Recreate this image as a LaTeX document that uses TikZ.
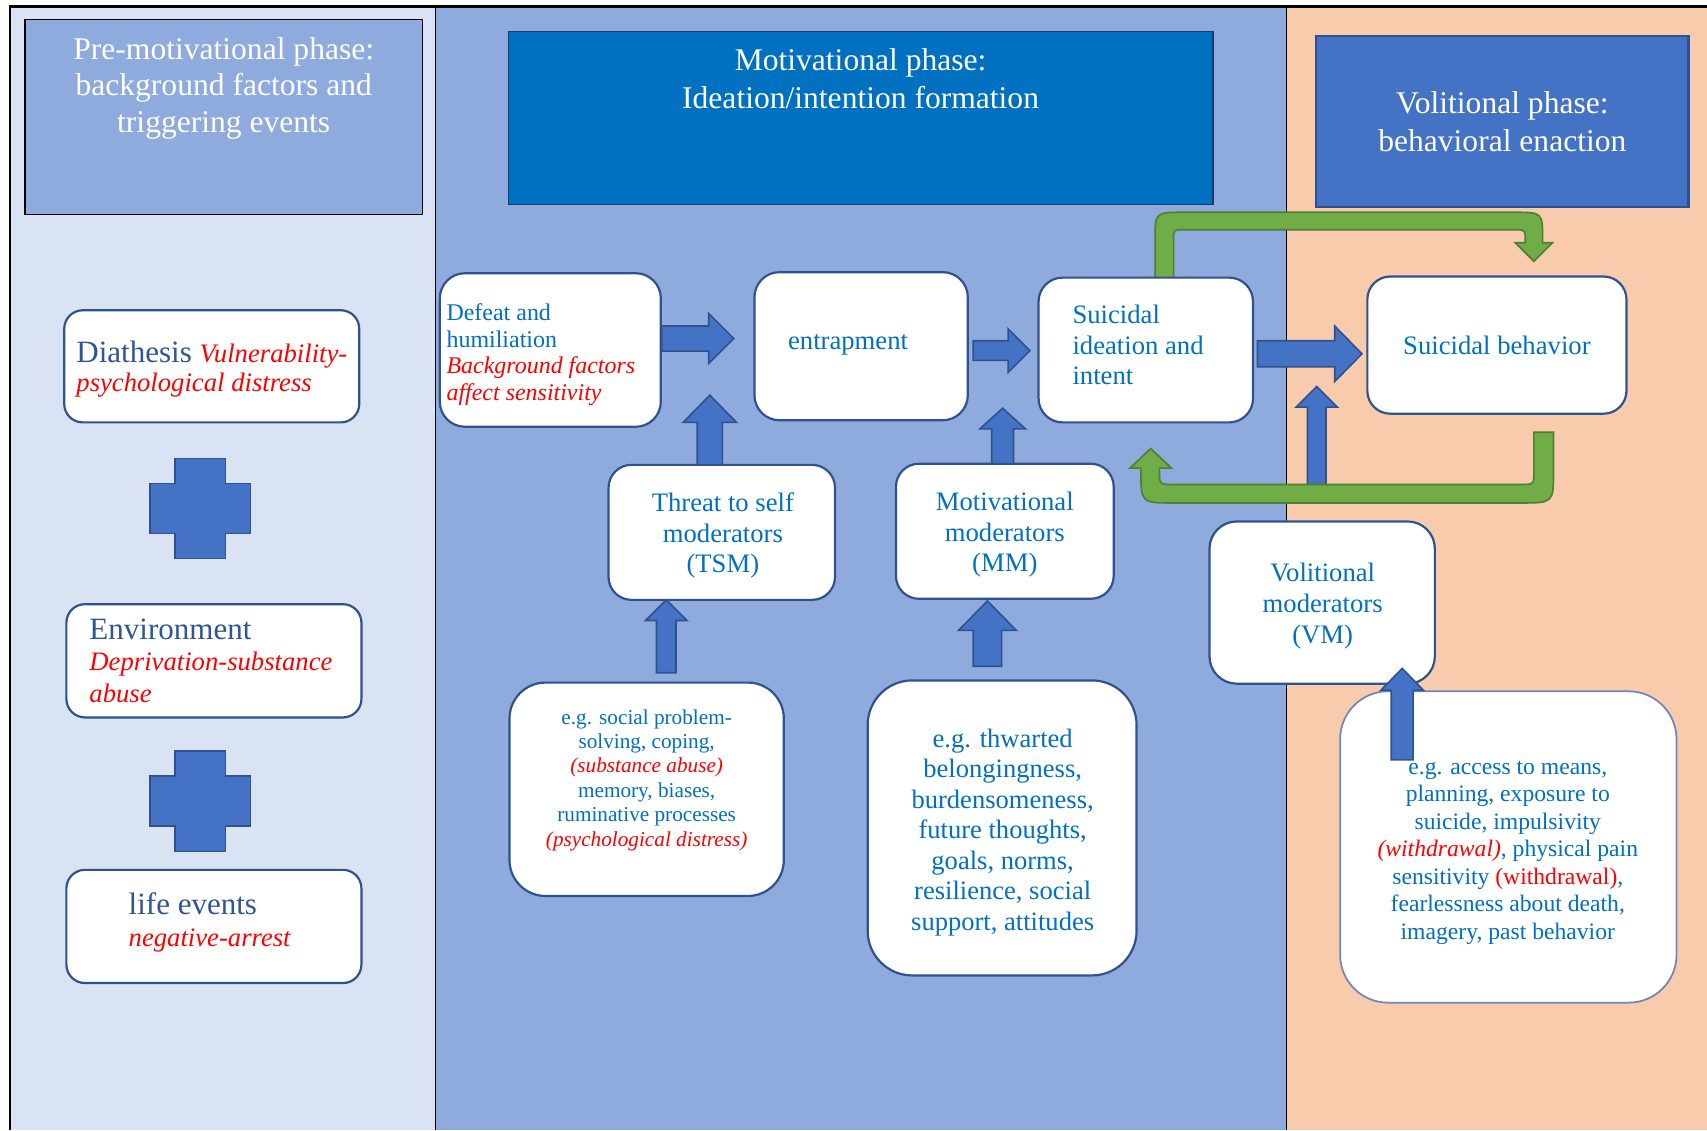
\documentclass[tikz,border=0pt]{standalone}
\usepackage{fontspec}
\setmainfont{Liberation Serif}
\definecolor{lpanel}{HTML}{DAE3F3}
\definecolor{mpanel}{HTML}{8FAADC}
\definecolor{rpanel}{HTML}{F8CBAD}
\definecolor{hmid}{HTML}{0070C0}
\definecolor{hmidline}{HTML}{1F3864}
\definecolor{hright}{HTML}{4472C4}
\definecolor{boxblue}{HTML}{2F528F}
\definecolor{accline}{HTML}{7086B8}
\definecolor{arrfill}{HTML}{4472C4}
\definecolor{grfill}{HTML}{70AD47}
\definecolor{grline}{HTML}{507E32}
\definecolor{tblue}{HTML}{0070C0}
\definecolor{diablue}{HTML}{2F5597}
\newcommand\myfs[2]{\fontsize{#1pt}{#2pt}\selectfont}
\newcommand\redit[1]{{\color{red}\itshape\fontsize{24.5pt}{30pt}\selectfont #1}}
\newcommand\rit[1]{{\color{red}\itshape #1}}
% right block arrow: x0 yc halfshaft xhead halfhead xtip
\newcommand\myrarrow[6]{\draw[barrow] (#1,{#2-#3}) -- (#4,{#2-#3}) -- (#4,{#2-#5}) -- (#6,#2) -- (#4,{#2+#5}) -- (#4,{#2+#3}) -- (#1,{#2+#3}) -- cycle;}
% up block arrow: xc y0 halfshaft yhead halfhead ytip
\newcommand\myuarrow[6]{\draw[barrow] ({#1-#3},#2) -- ({#1-#3},#4) -- ({#1-#5},#4) -- (#1,#6) -- ({#1+#5},#4) -- ({#1+#3},#4) -- ({#1+#3},#2) -- cycle;}
\newcommand\myplus[2]{\draw[barrow] ({#1-23},{#2-46}) -- ({#1+23},{#2-46}) -- ({#1+23},{#2-23}) -- ({#1+46},{#2-23}) -- ({#1+46},{#2+23}) -- ({#1+23},{#2+23}) -- ({#1+23},{#2+46}) -- ({#1-23},{#2+46}) -- ({#1-23},{#2+23}) -- ({#1-46},{#2+23}) -- ({#1-46},{#2-23}) -- ({#1-23},{#2-23}) -- cycle;}
\begin{document}
\begin{tikzpicture}[x=1pt,y=-1pt,
  wbox/.style={draw=boxblue,line width=2pt,fill=white,rounded corners=#1,inner sep=0pt},
  hbox/.style={inner sep=0pt},
  txt/.style={inner sep=0pt,anchor=north,align=center},
  ltxt/.style={inner sep=0pt,anchor=north west,align=left},
  barrow/.style={fill=arrfill,draw=boxblue,line width=1.5pt,line join=miter},
  garrow/.style={fill=grfill,draw=grline,line width=1.5pt,line join=miter}]
\useasboundingbox (0,0) rectangle (1568,1038);
% panels
\fill[white] (0,0) rectangle (1568,1038);
\fill[lpanel] (9,6) rectangle (399.6,1038);
\fill[mpanel] (399.6,6) rectangle (1182,1038);
\fill[rpanel] (1182,6) rectangle (1568,1038);
\draw[line width=0.9pt] (399.6,6) -- (399.6,1038);
\draw[line width=0.9pt] (1182,6) -- (1182,1038);
\draw[line width=2pt] (9,1038) -- (9,6) -- (1568,6);
% headers
\node[hbox,draw=black,line width=1.2pt,fill=mpanel,minimum width=365pt,minimum height=179pt] (h1) at (205.5,107.5) {};
\node[hbox,draw=hmidline,line width=1.5pt,fill=hmid,minimum width=647pt,minimum height=159pt] (h2) at (790.5,108.5) {};
\node[hbox,draw=boxblue,line width=2pt,fill=hright,minimum width=342pt,minimum height=157pt] (h3) at (1380,111.5) {};
\node[txt,text=white,font=\myfs{29}{33.5}] (h1t) at (205.5,31) {\strut Pre-motivational phase:\\\strut background factors and\\\strut triggering events};
\node[txt,text=white,font=\myfs{29}{34.5}] (h2t) at (790.5,40.8) {\strut Motivational phase:\\\strut Ideation/intention formation};
\node[txt,text=white,font=\myfs{29}{35}] (h3t) at (1380,79.5) {\strut Volitional phase:\\\strut behavioral enaction};
% green arrow top (behind the ideation box)
\draw[garrow] (1061,262) -- (1061,221) .. controls (1061,195) .. (1087,195) -- (1391,195) .. controls (1417,195) .. (1417,221) -- (1417,223) -- (1426,223) -- (1409,240) -- (1392,223) -- (1401,223) -- (1401,221) .. controls (1401,211) .. (1391,211) -- (1087,211) .. controls (1078,211) .. (1078,220) -- (1078,262) -- cycle;
% left panel boxes
\node[wbox=17pt,minimum width=271pt,minimum height=103pt] (diat) at (194.5,336.5) {};
\node[wbox=17pt,minimum width=271pt,minimum height=104pt] (env) at (196.5,607) {};
\node[wbox=17pt,minimum width=271pt,minimum height=104pt] (life) at (196.5,851) {};
\node[ltxt,text=diablue,font=\myfs{28.5}{27}] (diatt) at (70,312.7) {\strut Diathesis \redit{Vulnerability-}\\\strut\redit{psychological distress}};
\node[ltxt,text=diablue,font=\myfs{28.5}{29}] (envt) at (82,566.7) {\strut Environment\\\strut\redit{Deprivation-substance}\\\strut\redit{abuse}};
\node[ltxt,text=diablue,font=\myfs{28.5}{29}] (lifet) at (118,819.7) {\strut life events\\\strut\redit{negative-arrest}};
\myplus{184}{467}
\myplus{184}{736}
% middle / right boxes
\node[wbox=23pt,minimum width=203pt,minimum height=141pt] (defeat) at (505.5,321.5) {};
\node[wbox=23pt,minimum width=196pt,minimum height=136pt] (entrap) at (791,318) {};
\node[wbox=22pt,minimum width=197pt,minimum height=133pt] (ideat) at (1052.5,321.5) {};
\node[wbox=21pt,minimum width=238pt,minimum height=126pt] (behav) at (1375,317) {};
\node[wbox=21pt,minimum width=208pt,minimum height=124pt] (tsm) at (663,489) {};
\node[wbox=21pt,minimum width=200pt,minimum height=124pt] (mm) at (923,488) {};
\node[wbox=25pt,minimum width=207pt,minimum height=149pt] (vm) at (1214.5,553.5) {};
\node[wbox=33pt,minimum width=252pt,minimum height=196pt] (egsoc) at (594,725) {};
\node[wbox=41pt,minimum width=247pt,minimum height=271pt] (egthw) at (920.5,760.5) {};
\node[wbox=44pt,draw=accline,line width=1.6pt,minimum width=309pt,minimum height=286pt] (egacc) at (1385.5,778) {};
% texts
\node[ltxt,text=tblue,font=\myfs{22}{24.6}] (defeatt) at (410,276.8) {\strut Defeat and\\\strut humiliation\\\strut\rit{Background factors}\\\strut\rit{affect sensitivity}};
\node[inner sep=0pt,anchor=base,text=tblue,font=\myfs{24.5}{28}] (entrapt) at (779,321) {entrapment};
\node[ltxt,text=tblue,font=\myfs{24.5}{28}] (ideatt) at (985,277.4) {\strut Suicidal\\\strut ideation and\\\strut intent};
\node[inner sep=0pt,anchor=base,text=tblue,font=\myfs{24.5}{28}] (behavt) at (1375,326) {Suicidal behavior};
\node[txt,text=tblue,font=\myfs{24.5}{28}] (tsmt) at (664,450.4) {\strut Threat to self\\\strut moderators\\\strut (TSM)};
\node[txt,text=tblue,font=\myfs{24.5}{28}] (mmt) at (923,449.4) {\strut Motivational\\\strut moderators\\\strut (MM)};
\node[txt,text=tblue,font=\myfs{24.5}{28.5}] (vmt) at (1215,514) {\strut Volitional\\\strut moderators\\\strut (VM)};
\node[txt,text=tblue,font=\myfs{19.5}{22.4}] (egsoct) at (594,649.3) {\strut e.g. social problem-\\\strut solving, coping,\\\strut\rit{(substance abuse)}\\\strut memory, biases,\\\strut ruminative processes\\\strut\rit{(psychological distress)}};
\node[txt,text=tblue,font=\myfs{24.4}{28.1}] (egthwt) at (921,666.3) {\strut e.g. thwarted\\\strut belongingness,\\\strut burdensomeness,\\\strut future thoughts,\\\strut goals, norms,\\\strut resilience, social\\\strut support, attitudes};
\node[txt,text=tblue,font=\myfs{21.7}{25.3}] (egacct) at (1385,693.3) {\strut e.g. access to means,\\\strut planning, exposure to\\\strut suicide, impulsivity\\\strut\rit{(withdrawal)}, physical pain\\\strut sensitivity \textcolor{red}{(withdrawal)},\\\strut fearlessness about death,\\\strut imagery, past behavior};
% blue block arrows
\myrarrow{608}{311}{11.5}{651}{23}{674}
\myrarrow{894}{322}{9}{926}{20}{946}
\myrarrow{1155}{325}{12}{1226}{25.5}{1251}
\myuarrow{652}{427}{11.5}{388}{24.5}{363}
\myuarrow{921}{426}{10}{394}{21}{375}
\myuarrow{1209.5}{446}{8.5}{374}{19}{355}
\myuarrow{612}{618}{9}{570}{19}{551}
\myuarrow{907}{612}{13}{579}{26.5}{552}
\myuarrow{1288}{698}{10}{634}{19.5}{614}
% green arrow bottom
\draw[garrow] (1409,397) -- (1427,397) -- (1427,432) .. controls (1427,462) .. (1397,462) -- (1078,462) .. controls (1048,462) .. (1048,432) -- (1048,430) -- (1038,430) -- (1057,412) -- (1076,430) -- (1065,430) -- (1065,432) .. controls (1065,445) .. (1078,445) -- (1397,445) .. controls (1409,445) .. (1409,433) -- cycle;
\end{tikzpicture}
\end{document}
